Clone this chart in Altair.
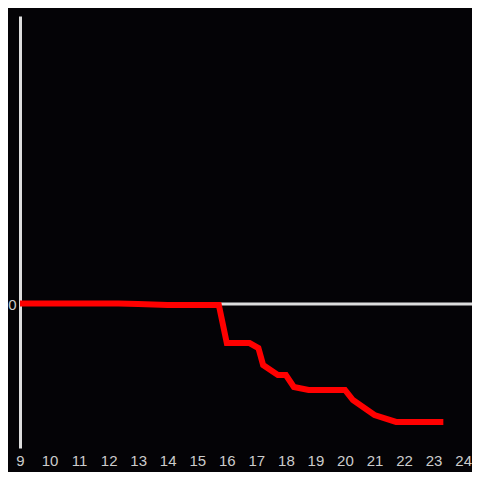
import altair as alt
import pandas as pd

hours = [9, 12.33, 13, 14, 15.73, 16, 16.77, 17.07, 17.23, 17.73, 18, 18.27, 18.77, 20, 20.27, 21, 21.73, 23.33]
values = [0.003, 0.003, 0, -0.007, -0.007, -0.271, -0.271, -0.306, -0.424, -0.493, -0.493, -0.576, -0.597, -0.597, -0.667, -0.771, -0.819, -0.819]
x_ticks = list(range(9, 25))

df = pd.DataFrame({"hour": hours, "value": values})

xscale = alt.Scale(domain=[9, 24.3], nice=False, zero=False)
yscale = alt.Scale(domain=[-1, 2], nice=False, zero=False)

xaxis = alt.Axis(values=x_ticks, domain=False, ticks=False, grid=False,
                 labelColor="#cccccc", labelFontSize=15, labelPadding=5,
                 labelFont="Liberation Sans", labelFlush=False)
yaxis = alt.Axis(values=[0], domain=True, domainColor="#dddddd", domainWidth=3,
                 ticks=False, grid=False, labelColor="#cccccc", labelFontSize=15,
                 labelPadding=4, labelFont="Liberation Sans")

rule = alt.Chart(pd.DataFrame({"value": [0]})).mark_rule(color="#dddddd", strokeWidth=3).encode(
    y=alt.Y("value:Q", scale=yscale, title=None, axis=yaxis)
)

line = alt.Chart(df).mark_line(color="#ff0000", strokeWidth=6).encode(
    x=alt.X("hour:Q", scale=xscale, title=None, axis=xaxis),
    y=alt.Y("value:Q", scale=yscale, title=None, axis=yaxis),
)

chart = alt.layer(rule, line).properties(
    width=452, height=432,
    background="#040306",
    autosize=alt.AutoSizeParams(type="none"),
    padding={"left": 12, "top": 8, "right": 0, "bottom": 24},
).configure_view(stroke=None)

chart.save("out.html", embed_options={"renderer": "svg", "actions": False})
